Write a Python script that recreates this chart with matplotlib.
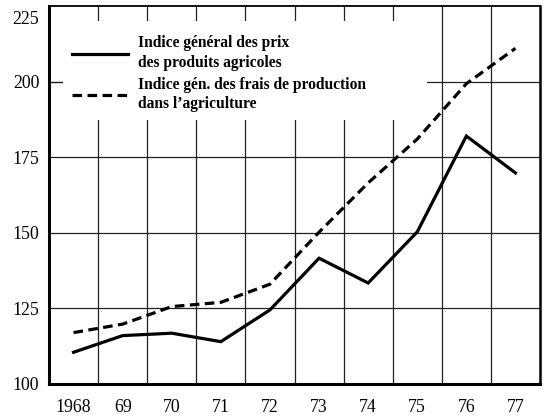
import matplotlib
matplotlib.use("Agg")
import matplotlib.pyplot as plt
import matplotlib.transforms as mtransforms
from matplotlib.patches import Rectangle

years = [1968, 1969, 1970, 1971, 1972, 1973, 1974, 1975, 1976, 1977]
year_labels = ["1968", "69", "70", "71", "72", "73", "74", "75", "76", "77"]
prix_agricoles = [110.5, 116.0, 116.8, 114.0, 124.5, 141.6, 133.4, 150.3, 182.0, 169.8]
frais_production = [117.0, 119.8, 125.6, 127.0, 133.0, 150.2, 166.5, 181.0, 199.3, 211.0]
y_ticks = [100, 125, 150, 175, 200, 225]
label_prix = "Indice général des prix\ndes produits agricoles"
label_frais = "Indice gén. des frais de production\ndans l\u2019agriculture"

plt.rcParams["font.family"] = ["Liberation Serif", "DejaVu Serif"]

fig = plt.figure(figsize=(5.44, 4.18), dpi=100)
ax = fig.add_axes([49 / 544, 1 - 384 / 418, (540 - 49) / 544, (384 - 6) / 418])

ax.set_xlim(years[0] - 0.5, years[-1] + 0.5)
ax.set_ylim(100, 225)

# grid lines between years and at y ticks
for i in range(len(years) - 1):
    ax.axvline(years[i] + 0.5, color="#222222", lw=0.9, zorder=1)
for v in y_ticks[1:-1]:
    ax.axhline(v, color="#222222", lw=0.9, zorder=1)

# white area behind legend (covers grid)
ax.add_patch(Rectangle((1967.78, 187.3), 1975.2 - 1967.78, 220.2 - 187.3,
                       facecolor="white", edgecolor="none", zorder=1.5))

ax.plot(years, prix_agricoles, color="black", lw=2.3, solid_joinstyle="miter",
        label=label_prix, zorder=3)
ax.plot(years, frais_production, color="black", lw=2.3, linestyle=(0, (3.0, 1.7)),
        label=label_frais, zorder=3)

leg = ax.legend(loc="upper left", bbox_to_anchor=(0.046, 0.922), frameon=False,
                handlelength=3.6, handletextpad=0.65, labelspacing=0.35,
                borderaxespad=0.0, borderpad=0.0,
                prop={"family": "Liberation Serif", "weight": "bold", "size": 11.2})
for t in leg.get_texts():
    t.set_linespacing(1.3)
leg.set_zorder(4)

ax.set_xticks(years)
ax.set_xticklabels(year_labels)
ax.set_yticks(y_ticks)
ax.set_yticklabels([str(v) for v in y_ticks])
ax.tick_params(axis="x", length=0, pad=11, labelsize=12.8)
ax.tick_params(axis="y", length=0, pad=7, labelsize=12.8)

# shift top label down slightly as in reference
lab = ax.get_yticklabels()[-1]
lab.set_transform(lab.get_transform() + mtransforms.ScaledTranslation(0, -8 / 72, fig.dpi_scale_trans))

# short tick stub at 200
ax.plot([years[0] - 0.5, years[0] - 0.5 + 0.27], [200, 200], color="#222222", lw=0.9, zorder=2,
        clip_on=False)

for side, lw in [("left", 2.2), ("bottom", 2.2), ("top", 1.3), ("right", 1.8)]:
    ax.spines[side].set_linewidth(lw)
    ax.spines[side].set_color("black")

fig.savefig("out.png", dpi=100)
